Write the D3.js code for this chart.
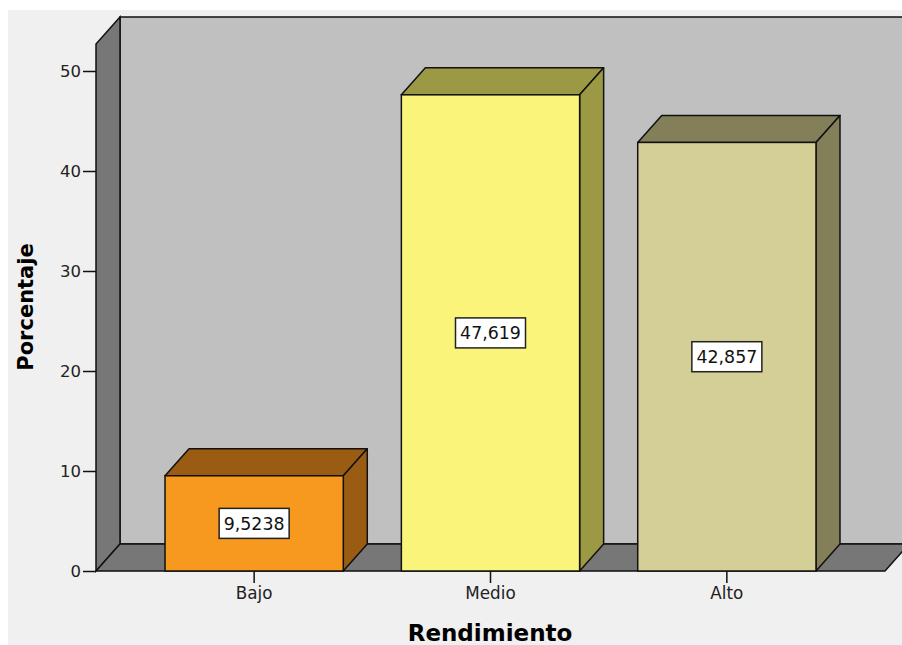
<!DOCTYPE html>
<html>
<head>
<meta charset="utf-8">
<script src="https://cdn.jsdelivr.net/npm/d3@7"></script>
<style>
  html, body { margin: 0; padding: 0; background: #ffffff; }
  svg { display: block; }
</style>
</head>
<body>
<svg id="chart" width="902" height="645"></svg>
<script>
// ---- data ----
const categories = ["Bajo", "Medio", "Alto"];
const values = [9.5238, 47.619, 42.857];
const valueLabels = ["9,5238", "47,619", "42,857"];
const yTicks = [0, 10, 20, 30, 40, 50];
const frontColors = ["#f7981f", "#faf57a", "#d4cf97"];
const sideColors = ["#9a5b13", "#9c9944", "#827f59"];

// ---- layout ----
const W = 902, H = 645;
const depthX = 24, depthY = -27;
const plotLeft = 96, plotRight = 885, plotBottom = 571, plotTop = 44;

const svg = d3.select("#chart");

svg.append("rect").attr("x", 8).attr("y", 10).attr("width", W - 8).attr("height", H - 10)
  .attr("fill", "#f0f0f0");

const x = d3.scaleBand().domain(categories).range([plotLeft, plotRight])
  .paddingInner(0.2458).paddingOuter(0.292);
const y = d3.scaleLinear().domain([0, 52.7]).range([plotBottom, plotTop]);

const line = d3.line();
const stroke = "#111";
const sw = 1.5;

// back wall
const y0 = y(0), yMax = y(52.7);
svg.append("path")
  .attr("d", line([[plotLeft + depthX, yMax + depthY], [plotRight + depthX, yMax + depthY],
                   [plotRight + depthX, y0 + depthY], [plotLeft + depthX, y0 + depthY]]) + "Z")
  .attr("fill", "#c0c0c0").attr("stroke", stroke).attr("stroke-width", sw);

// left wall
svg.append("path")
  .attr("d", line([[plotLeft, y0], [plotLeft, yMax], [plotLeft + depthX, yMax + depthY], [plotLeft + depthX, y0 + depthY]]) + "Z")
  .attr("fill", "#777777").attr("stroke", stroke).attr("stroke-width", sw);

// floor
svg.append("path")
  .attr("d", line([[plotLeft, y0], [plotRight, y0], [plotRight + depthX, y0 + depthY], [plotLeft + depthX, y0 + depthY]]) + "Z")
  .attr("fill", "#777777").attr("stroke", stroke).attr("stroke-width", sw);

// bars
const bars = svg.append("g");
categories.forEach((c, i) => {
  const x0 = x(c), x1 = x(c) + x.bandwidth(), yt = y(values[i]);
  const g = bars.append("g");
  g.append("path")
    .attr("d", line([[x0, yt], [x1, yt], [x1 + depthX, yt + depthY], [x0 + depthX, yt + depthY]]) + "Z")
    .attr("fill", sideColors[i]).attr("stroke", stroke).attr("stroke-width", sw).attr("stroke-linejoin", "round");
  g.append("path")
    .attr("d", line([[x1, yt], [x1 + depthX, yt + depthY], [x1 + depthX, y0 + depthY], [x1, y0]]) + "Z")
    .attr("fill", sideColors[i]).attr("stroke", stroke).attr("stroke-width", sw).attr("stroke-linejoin", "round");
  g.append("rect")
    .attr("x", x0).attr("y", yt).attr("width", x.bandwidth()).attr("height", y0 - yt)
    .attr("fill", frontColors[i]).attr("stroke", stroke).attr("stroke-width", sw);
  const cx = x0 + x.bandwidth() / 2, cy = y(values[i] / 2);
  g.append("rect")
    .attr("x", cx - 35).attr("y", cy - 15).attr("width", 70).attr("height", 30)
    .attr("fill", "#ffffff").attr("stroke", "#222").attr("stroke-width", 1.5);
  g.append("text")
    .attr("x", cx).attr("y", cy).attr("dy", "0.36em")
    .attr("text-anchor", "middle")
    .attr("font-family", "DejaVu Sans, sans-serif").attr("font-size", 17.4)
    .attr("fill", "#111")
    .text(valueLabels[i]);
});

// y axis
const yAxis = d3.axisLeft(y).tickValues(yTicks).tickSize(13).tickPadding(2).tickFormat(d3.format("d"));
const ya = svg.append("g").attr("transform", `translate(${plotLeft},0)`).call(yAxis);
ya.select(".domain").remove();
ya.selectAll(".tick line").attr("stroke", "#111").attr("stroke-width", 1.5);
ya.selectAll(".tick text").attr("font-family", "DejaVu Sans, sans-serif").attr("font-size", 16.5)
  .attr("fill", "#222");

// x axis
const xAxis = d3.axisBottom(x).tickSize(12).tickPadding(4);
const xa = svg.append("g").attr("transform", `translate(0,${y0})`).call(xAxis);
xa.select(".domain").remove();
xa.selectAll(".tick line").attr("stroke", "#111").attr("stroke-width", 1.5);
xa.selectAll(".tick text").attr("font-family", "DejaVu Sans, sans-serif").attr("font-size", 16.8)
  .attr("fill", "#222");

// axis titles
svg.append("text")
  .attr("transform", `translate(33,307) rotate(-90)`)
  .attr("text-anchor", "middle")
  .attr("font-family", "DejaVu Sans, sans-serif").attr("font-weight", "bold").attr("font-size", 21)
  .attr("fill", "#000")
  .text("Porcentaje");

svg.append("text")
  .attr("x", 490).attr("y", 641)
  .attr("text-anchor", "middle")
  .attr("font-family", "DejaVu Sans, sans-serif").attr("font-weight", "bold").attr("font-size", 23)
  .attr("fill", "#000")
  .text("Rendimiento");
</script>
</body>
</html>
